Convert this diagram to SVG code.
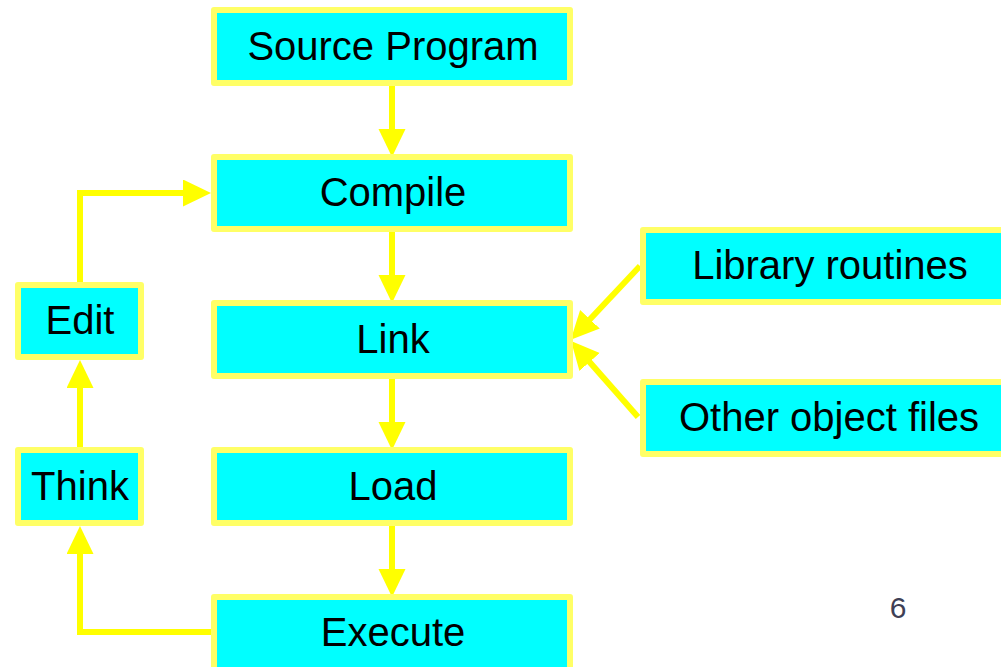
<svg xmlns="http://www.w3.org/2000/svg" width="1001" height="667" viewBox="0 0 1001 667">
  <style>
    .box { fill: #00ffff; stroke: #ffff66; stroke-width: 6; stroke-linejoin: round; }
    .lbl { font-family: "Liberation Sans", Arial, sans-serif; font-size: 40px; fill: #000; text-anchor: middle; }
    .flow { fill: none; stroke: #ffff00; stroke-width: 6; stroke-linejoin: miter; marker-end: url(#head); }
    .page { font-family: "Liberation Sans", Arial, sans-serif; font-size: 30px; fill: #3f3f55; text-anchor: middle; }
  </style>
  <defs>
    <marker id="head" markerUnits="userSpaceOnUse" markerWidth="28" markerHeight="28" refX="16" refY="13.5" orient="auto">
      <path d="M0,0 L28,13.5 L0,27 z" fill="#ffff00"/>
    </marker>
  </defs>

  <rect width="1001" height="667" fill="#ffffff"/>

  <!-- connectors -->
  <g id="connectors">
    <path class="flow" d="M392,86 L392,145"/>
    <path class="flow" d="M392,232 L392,291"/>
    <path class="flow" d="M392,379 L392,438"/>
    <path class="flow" d="M392,526 L392,585"/>
    <path class="flow" d="M80,283 L80,193 L199,193"/>
    <path class="flow" d="M80,447 L80,372"/>
    <path class="flow" d="M211,632 L80,632 L80,538"/>
    <path class="flow" d="M640,266 L579,331"/>
    <path class="flow" d="M638,417 L579,350"/>
  </g>

  <!-- main pipeline -->
  <g id="source-program">
    <rect class="box" x="214" y="10" width="356" height="73"/>
    <text class="lbl" x="393" y="60">Source Program</text>
  </g>
  <g id="compile">
    <rect class="box" x="214" y="157" width="356" height="72"/>
    <text class="lbl" x="393" y="206">Compile</text>
  </g>
  <g id="link">
    <rect class="box" x="214" y="303" width="356" height="73"/>
    <text class="lbl" x="393" y="353">Link</text>
  </g>
  <g id="load">
    <rect class="box" x="214" y="450" width="356" height="73"/>
    <text class="lbl" x="393" y="500">Load</text>
  </g>
  <g id="execute">
    <rect class="box" x="214" y="597" width="356" height="73"/>
    <text class="lbl" x="393" y="646">Execute</text>
  </g>

  <!-- edit loop -->
  <g id="edit">
    <rect class="box" x="18" y="285" width="123" height="72"/>
    <text class="lbl" x="80" y="334">Edit</text>
  </g>
  <g id="think">
    <rect class="box" x="18" y="450" width="123" height="73"/>
    <text class="lbl" x="80" y="500">Think</text>
  </g>

  <!-- link inputs -->
  <g id="library-routines">
    <rect class="box" x="643" y="230" width="374" height="72"/>
    <text class="lbl" x="830" y="279">Library routines</text>
  </g>
  <g id="other-object-files">
    <rect class="box" x="643" y="382" width="374" height="72"/>
    <text class="lbl" x="829" y="431">Other object files</text>
  </g>

  <text class="page" x="898" y="618">6</text>
</svg>
